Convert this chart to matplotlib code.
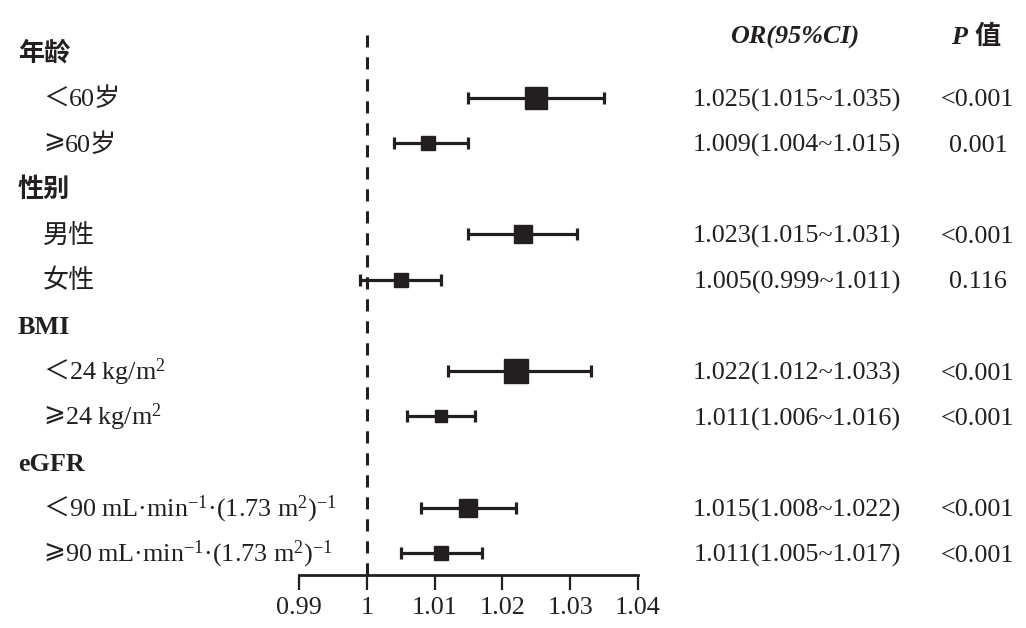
import matplotlib
matplotlib.use('Agg')
import matplotlib.pyplot as plt
import matplotlib.transforms as mtransforms

# subgroup forest plot data
groups = ['年龄', '性别', 'BMI', 'eGFR']
subgroups = [['＜60岁', '⩾60岁'],
             ['男性', '女性'],
             ['＜24 kg/m²', '⩾24 kg/m²'],
             ['＜90 mL·min⁻¹·(1.73 m²)⁻¹', '⩾90 mL·min⁻¹·(1.73 m²)⁻¹']]
or_est = [1.025, 1.009, 1.023, 1.005, 1.022, 1.011, 1.015, 1.011]
ci_low = [1.015, 1.004, 1.015, 0.999, 1.012, 1.006, 1.008, 1.005]
ci_high = [1.035, 1.015, 1.031, 1.011, 1.033, 1.016, 1.022, 1.017]
p_text = ['<0.001', '0.001', '<0.001', '0.116', '<0.001', '<0.001', '<0.001', '<0.001']
weight = [22, 14, 18, 13, 24, 12, 17, 14]  # relative box size
x_ticks = [0.99, 1.00, 1.01, 1.02, 1.03, 1.04]
x_ticklabels = ['0.99', '1', '1.01', '1.02', '1.03', '1.04']

FAM = ['Liberation Serif', 'Noto Sans CJK SC', 'DejaVu Sans']
FS = 18.8
INK = '#231f20'
plt.rcParams['mathtext.fontset'] = 'custom'
plt.rcParams['mathtext.rm'] = 'Liberation Serif'
plt.rcParams['mathtext.it'] = 'Liberation Serif:italic'
plt.rcParams['mathtext.bf'] = 'Liberation Serif:bold'

fig = plt.figure(figsize=(10.26, 6.28), dpi=100)
W, H = 1026, 628
ax = fig.add_axes([299 / W, 1 - 575 / H, 339 / W, 540 / H])

# row layout: header then its subgroups
rows = []
for g, subs in zip(groups, subgroups):
    rows.append((g, True))
    for s in subs:
        rows.append((s, False))

ax.set_ylim(11.48, -0.373)
ax.set_xlim(0.99, 1.04)

trans = mtransforms.blended_transform_factory(fig.transFigure, ax.transData)
BL = 0.19  # baseline shift (rows) so text sits centred on the row


def to_math(s):
    return s.replace('⁻¹', '$^{-1}$').replace('²', '$^{2}$')


k = 0
for i, (lab, head) in enumerate(rows):
    if head:
        ax.text(18 / W, i + BL, lab, transform=trans, family=FAM, fontsize=FS,
                fontweight='bold', va='baseline', ha='left', clip_on=False, color=INK)
        continue
    if lab[0] in '＜⩾':
        # the DejaVu ⩾ sits low, lift it a little
        lift = 3 / 72 if lab[0] == '⩾' else 0
        tr = trans + mtransforms.ScaledTranslation(0, lift, fig.dpi_scale_trans)
        sym = ax.text(43 / W, i + BL, lab[0], transform=tr, family=FAM, fontsize=FS,
                      va='baseline', ha='left', clip_on=False, color=INK)
        ax.annotate(to_math(lab[1:]), xy=(1, i + BL), xycoords=(sym, trans),
                    family=FAM, fontsize=FS, va='baseline', ha='left',
                    annotation_clip=False, color=INK)
    else:
        ax.text(43 / W, i + BL, lab, transform=trans, family=FAM, fontsize=FS,
                va='baseline', ha='left', clip_on=False, color=INK)
    ax.errorbar(or_est[k], i, xerr=[[or_est[k] - ci_low[k]], [ci_high[k] - or_est[k]]],
                fmt='s', color=INK, ecolor=INK, elinewidth=2.3,
                capsize=4.3, capthick=2.3, markersize=weight[k] * 0.74)
    ax.text(797 / W, i + BL, '%.3f(%.3f~%.3f)' % (or_est[k], ci_low[k], ci_high[k]),
            transform=trans, family=FAM, fontsize=FS, va='baseline', ha='center',
            clip_on=False, color=INK)
    ax.text(978 / W, i + BL, p_text[k], transform=trans, family=FAM, fontsize=FS,
            va='baseline', ha='center', clip_on=False, color=INK)
    k += 1

# column headers
ax.text(795 / W, -0.37 + BL, 'OR(95%CI)', transform=trans, family=FAM, fontsize=FS,
        fontweight='bold', style='italic', va='baseline', ha='center', clip_on=False,
        color=INK)
ax.text(967 / W, -0.37 + BL, 'P', transform=trans, family=FAM, fontsize=FS,
        fontweight='bold', style='italic', va='baseline', ha='right', clip_on=False,
        color=INK)
ax.text(974 / W, -0.37 + BL, '值', transform=trans, family=FAM, fontsize=FS,
        fontweight='bold', va='baseline', ha='left', clip_on=False, color=INK)

# reference line
ax.axvline(1.0, color=INK, lw=2.2, dashes=(4, 3.2))

for s in ['top', 'left', 'right']:
    ax.spines[s].set_visible(False)
ax.spines['bottom'].set_linewidth(2)
ax.spines['bottom'].set_color(INK)
ax.set_yticks([])
ax.set_xticks(x_ticks)
ax.set_xticklabels(x_ticklabels, family=FAM, fontsize=FS)
ax.tick_params(axis='x', direction='out', length=11, width=1.6, pad=5,
               color=INK, labelcolor=INK)
ax.patch.set_visible(False)

fig.savefig('out.png', dpi=100)
